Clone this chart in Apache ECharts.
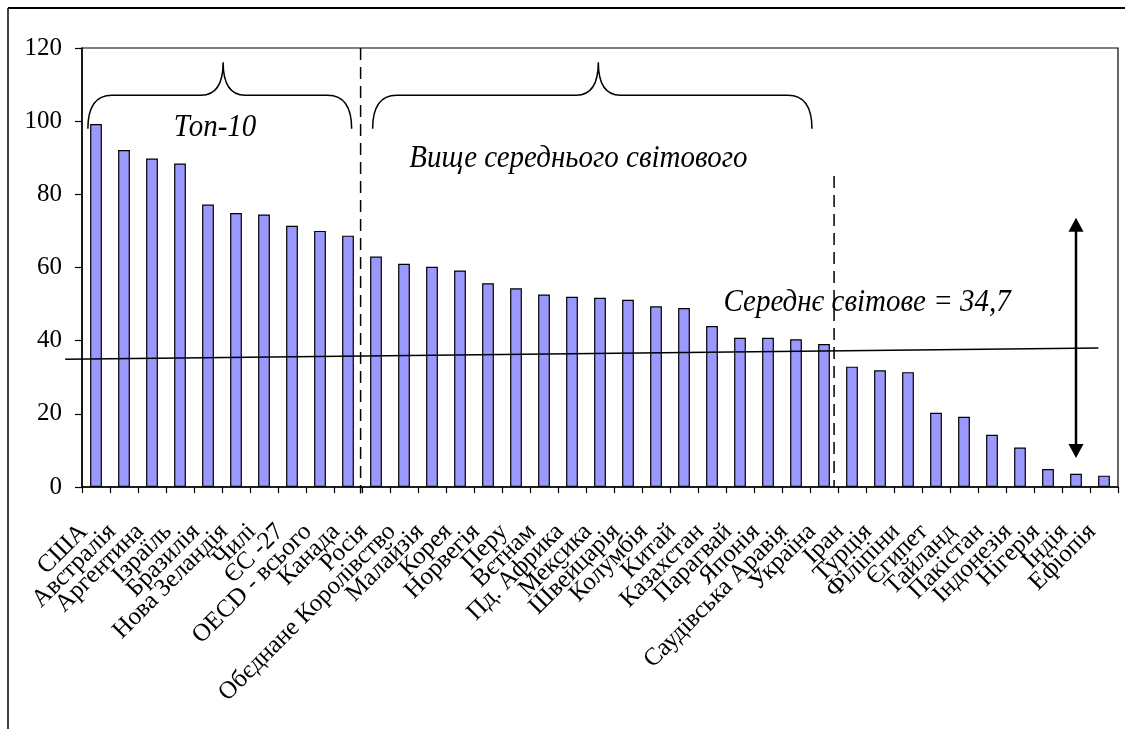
<!DOCTYPE html>
<html>
<head>
<meta charset="utf-8">
<script src="https://cdn.jsdelivr.net/npm/echarts@6/dist/echarts.min.js"></script>
<style>
html,body{margin:0;padding:0;background:#fff;}
#main{width:1125px;height:729px;}
</style>
</head>
<body>
<div id="main"></div>
<script>
// ---- data ----
const categories = ['США','Австралія','Аргентина','Ізраїль','Бразилія','Нова Зеландія','Чилі','ЄС -27','OECD - всього','Канада','Росія','Обєднане Королівство','Малайзія','Корея','Норвегія','Перу','Вєтнам','Пд. Африка','Мексика','Швейцарія','Колумбія','Китай','Казахстан','Парагвай','Японія','Саудівська Аравія','Україна','Іран','Турція','Філіпіни','Єгипет','Тайланд','Пакістан','Індонезія','Нігерія','Індія','Ефіопія'];
const values = [99.2, 92.1, 89.8, 88.4, 77.2, 74.9, 74.5, 71.4, 70.0, 68.7, 63.0, 61.0, 60.2, 59.2, 55.7, 54.3, 52.6, 52.0, 51.7, 51.2, 49.4, 48.9, 44.0, 40.8, 40.8, 40.4, 39.1, 32.9, 31.9, 31.4, 20.3, 19.2, 14.3, 10.8, 4.9, 3.6, 3.1];
const yMin = 0, yMax = 120, yInterval = 20;
// average line as drawn (x in category units, y in value units)
const avgLineX = [-0.6, 36.3];
const avgLineY = [34.9, 38.0];
const avgText = 'Середнє світове = 34,7';
const braceTexts = ['Топ-10', 'Вище середнього світового'];

// ---- annotation geometry (axis units) ----
const braceSpans = [[0.21, 9.63, 5.04], [10.38, 26.07, 18.44]];
const braceLevels = {end: 97.9, mid: 107.1, tip: 116.1};
const braceTextPos = [[4.75, 98.2], [17.73, 89.7]];
const avgTextPos = [28.04, 50.4];
const dividers = [[9.95, 120, -1.8], [26.86, 85, 0]];
const arrowPos = [35.5, 73.6, 7.9];

const serif = '"Liberation Serif", "Times New Roman", serif';
const annFont = 'italic 29px ' + serif;
const chart = echarts.init(document.getElementById('main'));

function txt(p, s) {
  return {type: 'text', x: p[0], y: p[1], scaleY: 1.1,
    style: {text: s, font: annFont, fill: '#000', align: 'center', verticalAlign: 'middle'}};
}

chart.setOption({
  backgroundColor: '#fff',
  animation: false,
  grid: {left: 82, right: 7, top: 48, bottom: 242, show: true, borderColor: '#000', borderWidth: 1.2, backgroundColor: 'transparent'},
  xAxis: [{
    type: 'category', data: categories,
    axisLine: {lineStyle: {color: '#000', width: 1.5}},
    axisTick: {show: true, length: 6, inside: false, lineStyle: {color: '#000', width: 1.2}},
    axisLabel: {interval: 0, rotate: 45, color: '#000', fontFamily: serif, fontSize: 25, margin: 29, padding: [0, 17, 0, 0]},
    splitLine: {show: false}
  }, {
    type: 'value', min: 0, max: 37, show: false
  }],
  yAxis: {
    type: 'value', min: yMin, max: yMax, interval: yInterval,
    axisLine: {show: true, lineStyle: {color: '#000', width: 1.5}},
    axisTick: {show: true, length: 7, lineStyle: {color: '#000', width: 1.2}},
    axisLabel: {color: '#000', fontFamily: serif, fontSize: 25, margin: 20},
    splitLine: {show: false}
  },
  graphic: [
    {type: 'line', shape: {x1: 8, y1: 8, x2: 1125, y2: 8}, style: {stroke: '#000', lineWidth: 2}},
    {type: 'line', shape: {x1: 8, y1: 8, x2: 8, y2: 729}, style: {stroke: '#000', lineWidth: 1.5}}
  ],
  series: [
    {
      type: 'bar', data: values, barWidth: '42%',
      itemStyle: {color: '#9999FF', borderColor: '#000', borderWidth: 1.2},
      z: 2
    },
    {
      // dashed dividers
      type: 'custom', xAxisIndex: 1, z: 3, silent: true, clip: false,
      data: dividers,
      renderItem: function (params, api) {
        const a = api.coord([api.value(0), api.value(1)]);
        const b = api.coord([api.value(0), api.value(2)]);
        return {type: 'line', shape: {x1: a[0], y1: a[1], x2: b[0], y2: b[1]},
          style: {stroke: '#000', lineWidth: 1.5, lineDash: [12, 7]}};
      }
    },
    {
      // average line
      type: 'custom', xAxisIndex: 1, z: 4, silent: true, clip: false,
      data: [[avgLineX[0], avgLineY[0], avgLineX[1], avgLineY[1]]],
      renderItem: function (params, api) {
        const a = api.coord([api.value(0), api.value(1)]);
        const b = api.coord([api.value(2), api.value(3)]);
        return {type: 'group', children: [
          {type: 'line', shape: {x1: a[0], y1: a[1], x2: b[0], y2: b[1]}, style: {stroke: '#000', lineWidth: 1.6}},
          txt(api.coord(avgTextPos), avgText)
        ]};
      }
    },
    {
      // double-headed arrow
      type: 'custom', xAxisIndex: 1, z: 4, silent: true, clip: false,
      data: [arrowPos],
      renderItem: function (params, api) {
        const t = api.coord([api.value(0), api.value(1)]);
        const b = api.coord([api.value(0), api.value(2)]);
        const w = 7.5, h = 14;
        return {type: 'group', children: [
          {type: 'line', shape: {x1: t[0], y1: t[1] + h - 2, x2: b[0], y2: b[1] - h + 2}, style: {stroke: '#000', lineWidth: 2.5}},
          {type: 'polygon', shape: {points: [[t[0], t[1]], [t[0] - w, t[1] + h], [t[0] + w, t[1] + h]]}, style: {fill: '#000'}},
          {type: 'polygon', shape: {points: [[b[0], b[1]], [b[0] - w, b[1] - h], [b[0] + w, b[1] - h]]}, style: {fill: '#000'}}
        ]};
      }
    },
    {
      // braces with labels
      type: 'custom', xAxisIndex: 1, z: 4, silent: true, clip: false,
      data: braceSpans.map((s, i) => [s[0], s[1], s[2], i]),
      renderItem: function (params, api) {
        const x0 = api.value(0), x1 = api.value(1), xt = api.value(2), idx = api.value(3);
        const pL = api.coord([x0, braceLevels.end]);
        const pR = api.coord([x1, braceLevels.end]);
        const pM = api.coord([xt, braceLevels.mid]);
        const pT = api.coord([xt, braceLevels.tip]);
        const yE = pL[1], yH = pM[1], yT = pT[1];
        const r = 24, r2 = 22;
        const path = 'M' + pL[0] + ' ' + yE +
          ' Q' + pL[0] + ' ' + yH + ' ' + (pL[0] + r) + ' ' + yH +
          ' L' + (pT[0] - r2) + ' ' + yH +
          ' Q' + pT[0] + ' ' + yH + ' ' + pT[0] + ' ' + yT +
          ' Q' + pT[0] + ' ' + yH + ' ' + (pT[0] + r2) + ' ' + yH +
          ' L' + (pR[0] - r) + ' ' + yH +
          ' Q' + pR[0] + ' ' + yH + ' ' + pR[0] + ' ' + yE;
        return {type: 'group', children: [
          {type: 'path', shape: {pathData: path}, style: {stroke: '#000', lineWidth: 1.5, fill: null}},
          txt(api.coord(braceTextPos[idx]), braceTexts[idx])
        ]};
      }
    }
  ]
});
</script>
</body>
</html>
